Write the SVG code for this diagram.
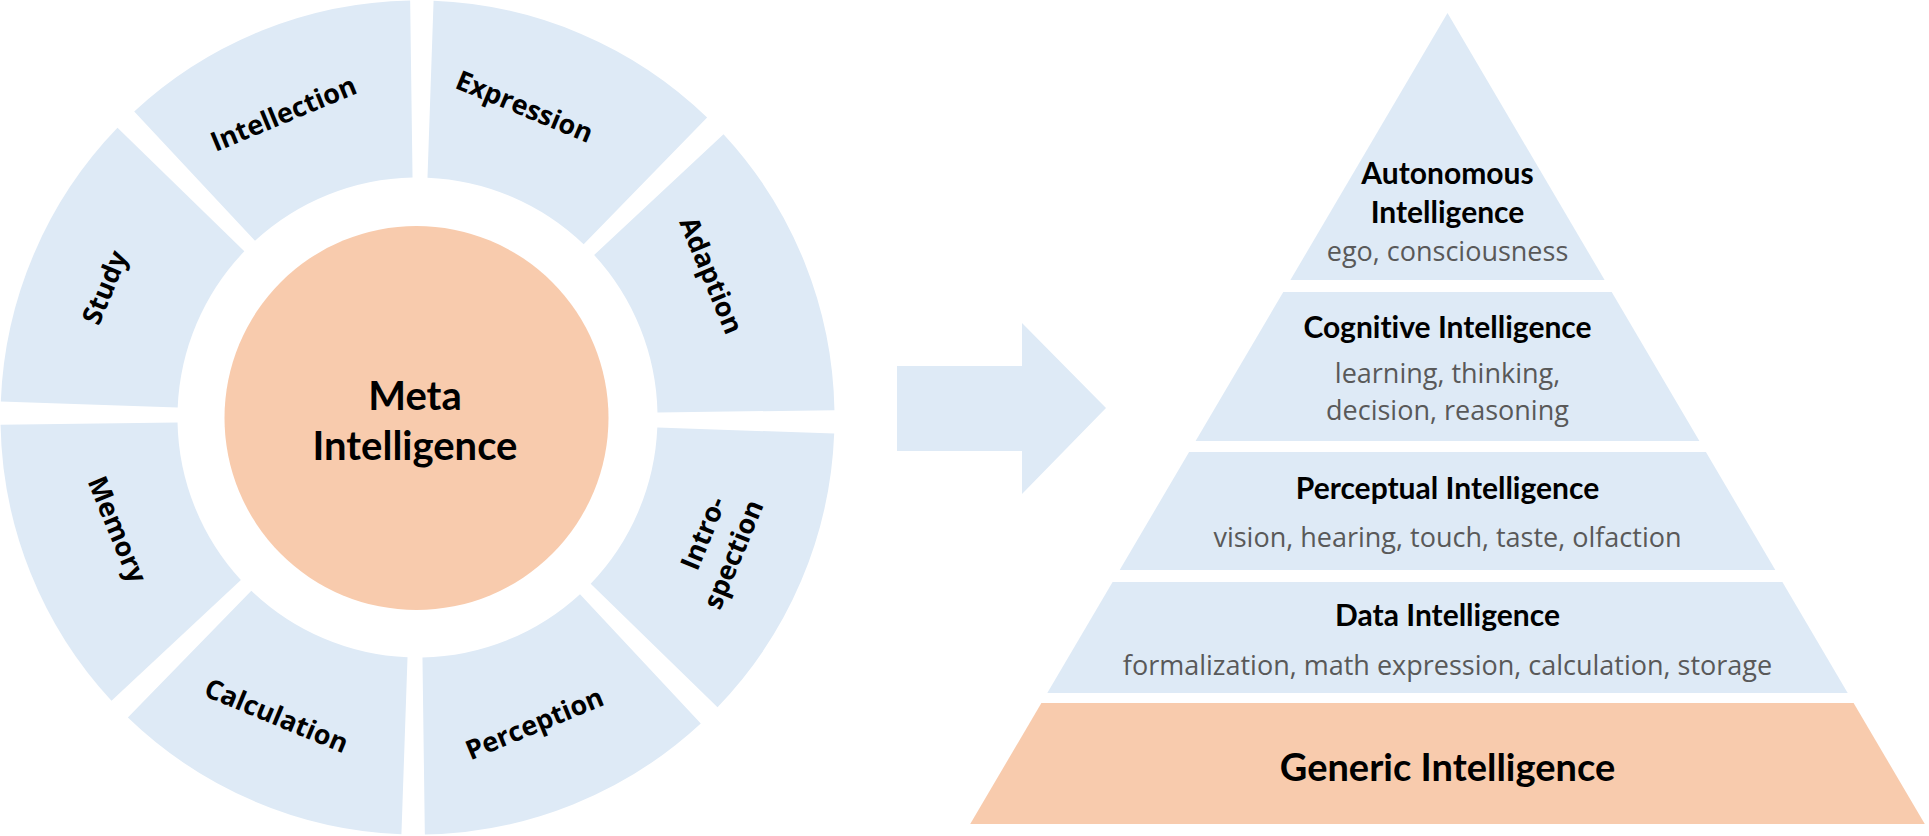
<svg xmlns="http://www.w3.org/2000/svg" xmlns:xlink="http://www.w3.org/1999/xlink" width="1929" height="836" viewBox="0 0 1929 836">
<style>
text{font-variant-ligatures:none}
.seg{fill:#DEEAF6}
.core{fill:#F8CBAD}
.lbl{font-family:"Open Sans","Noto Sans",sans-serif;font-weight:700;font-size:27px;fill:#000;text-anchor:middle}
.meta{font-family:Lato,"Open Sans",sans-serif;font-weight:700;font-size:40px;fill:#000;text-anchor:middle}
.ttl{font-family:Lato,"Open Sans",sans-serif;font-weight:700;font-size:30px;fill:#000;text-anchor:middle}
.big{font-family:Lato,"Open Sans",sans-serif;font-weight:700;font-size:38px;fill:#000;text-anchor:middle}
.sub{font-family:"Open Sans","Noto Sans",sans-serif;font-weight:400;font-size:27px;fill:#595959;text-anchor:middle}
</style>
<defs>
<path id="seg" d="M -148.7 -389.6 A 417 417 0 0 1 148.7 -389.6 L 84.9 -224.5 A 240 240 0 0 0 -84.9 -224.5 Z"/>
</defs>
<rect width="1929" height="836" fill="#FFFFFF"/>
<g id="ring">
<g id="seg-intellection"><use xlink:href="#seg" class="seg" transform="translate(417.5,417.5) rotate(-21.9)"/><text class="lbl" transform="translate(284,115) rotate(-22.5)" y="8">Intellection</text></g>
<g id="seg-expression"><use xlink:href="#seg" class="seg" transform="translate(417.5,417.5) rotate(23.1)"/><text class="lbl" transform="translate(524,108) rotate(22.5)" y="8">Expression</text></g>
<g id="seg-adaption"><use xlink:href="#seg" class="seg" transform="translate(417.5,417.5) rotate(68.1)"/><text class="lbl" transform="translate(710,276) rotate(67.5)" y="8">Adaption</text></g>
<g id="seg-introspection"><use xlink:href="#seg" class="seg" transform="translate(417.5,417.5) rotate(113.1)"/><text class="lbl" transform="translate(718,548) rotate(-67.5)"><tspan x="8" y="-10">Intro-</tspan><tspan x="0" y="26">spection</tspan></text></g>
<g id="seg-perception"><use xlink:href="#seg" class="seg" transform="translate(417.5,417.5) rotate(158.1)"/><text class="lbl" transform="translate(535,725) rotate(-22.5)" y="8">Perception</text></g>
<g id="seg-calculation"><use xlink:href="#seg" class="seg" transform="translate(417.5,417.5) rotate(203.1)"/><text class="lbl" transform="translate(276,717) rotate(22.5)" y="8">Calculation</text></g>
<g id="seg-memory"><use xlink:href="#seg" class="seg" transform="translate(417.5,417.5) rotate(248.1)"/><text class="lbl" transform="translate(116,530) rotate(67.5)" y="8">Memory</text></g>
<g id="seg-study"><use xlink:href="#seg" class="seg" transform="translate(417.5,417.5) rotate(293.1)"/><text class="lbl" transform="translate(106,288) rotate(-67.5)" y="8">Study</text></g>
</g>
<g id="meta-intelligence">
<circle class="core" cx="416.5" cy="418" r="192"/>
<text class="meta" x="415" y="410">Meta</text>
<text class="meta" x="415" y="460">Intelligence</text>
</g>
<g id="connectors">
<polygon id="arrow" class="seg" points="897,366 1022,366 1022,323 1106,408 1022,494 1022,451 897,451"/>
</g>
<g id="tier-autonomous">
<polygon class="seg" points="1447.5,13 1604.6,280 1290.4,280"/>
<text class="ttl" x="1447.5" y="184">Autonomous</text>
<text class="ttl" x="1447.5" y="223">Intelligence</text>
<text class="sub" x="1447.5" y="261">ego, consciousness</text>
</g>
<g id="tier-cognitive">
<polygon class="seg" points="1283.3,292 1611.7,292 1699.4,441 1195.6,441"/>
<text class="ttl" x="1447.5" y="338">Cognitive Intelligence</text>
<text class="sub" x="1447.5" y="383">learning, thinking,</text>
<text class="sub" x="1447.5" y="420">decision, reasoning</text>
</g>
<g id="tier-perceptual">
<polygon class="seg" points="1189.1,452 1705.9,452 1775.3,570 1119.7,570"/>
<text class="ttl" x="1447.5" y="499">Perceptual Intelligence</text>
<text class="sub" x="1447.5" y="547">vision, hearing, touch, taste, olfaction</text>
</g>
<g id="tier-data">
<polygon class="seg" points="1112.6,582 1782.4,582 1847.7,693 1047.3,693"/>
<text class="ttl" x="1447.5" y="626">Data Intelligence</text>
<text class="sub" x="1447.5" y="675">formalization, math expression, calculation, storage</text>
</g>
<g id="tier-generic">
<polygon class="core" points="1041.4,703 1853.6,703 1924.8,824 970.2,824"/>
<text class="big" x="1447.5" y="781">Generic Intelligence</text>
</g>
</svg>
